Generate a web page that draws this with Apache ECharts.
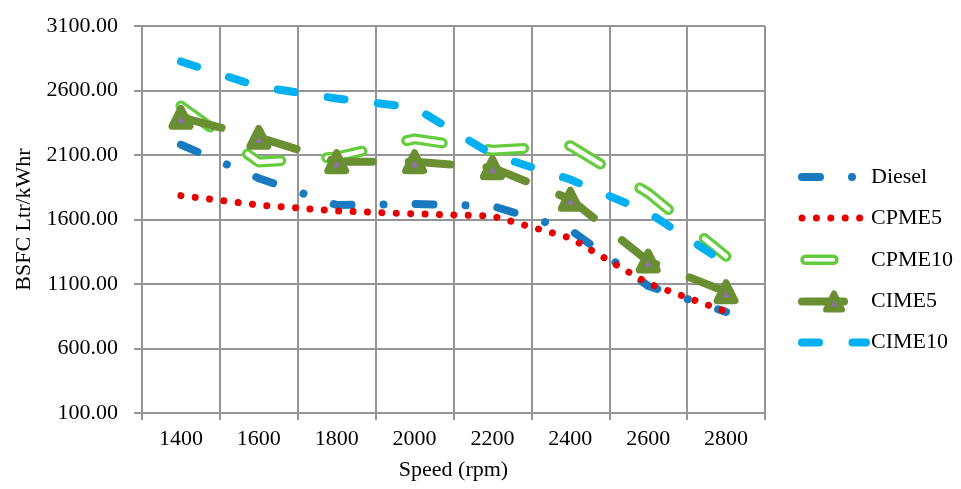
<!DOCTYPE html>
<html>
<head>
<meta charset="utf-8">
<script src="https://cdn.jsdelivr.net/npm/echarts@6/dist/echarts.min.js"></script>
<style>
html,body{margin:0;padding:0;background:#fff;}
#chart{width:961px;height:489px;}
</style>
</head>
<body>
<div id="chart"></div>
<script>
// ---- data ----
const categories = ['1400','1600','1800','2000','2200','2400','2600','2800'];
const diesel = [2180, 1920, 1712, 1720, 1705, 1520, 1085, 883];
const cpme5  = [1785, 1712, 1666, 1644, 1627, 1457, 1104, 886];
const cpme10 = [2480, 2045, 2084, 2225, 2137, 2172, 1805, 1315];
const cime5  = [2392, 2237, 2048, 2048, 2002, 1757, 1278, 1040];
const cime10 = [2825, 2630, 2538, 2468, 2103, 1910, 1655, 1260];
const yMin = 100, yMax = 3100, yStep = 500;

const FONT = "'Liberation Serif','Times New Roman',serif";
const GRID = '#959595';
const C = {
  diesel: '#1A7ABF', cpme5: '#E60000', cpme10: '#66CC3F',
  cime5: '#6A8F33', cime10: '#00B0F0', purple: '#8E6FAF'
};
const hiddenSymbol = {opacity: 0, borderWidth: 0};

const chart = echarts.init(document.getElementById('chart'), null, {renderer: 'canvas'});
chart.setOption({
  animation: false,
  backgroundColor: '#fff',
  grid: {left: 142, right: 196, top: 26, bottom: 76, containLabel: false},
  xAxis: {
    type: 'category',
    data: categories,
    boundaryGap: true,
    name: 'Speed (rpm)',
    nameLocation: 'middle',
    nameGap: 46,
    nameTextStyle: {fontFamily: FONT, fontSize: 22, color: '#000'},
    axisLine: {lineStyle: {color: GRID, width: 2}},
    axisTick: {show: true, length: 7, lineStyle: {color: GRID, width: 2}},
    axisLabel: {fontFamily: FONT, fontSize: 22, color: '#000', margin: 15},
    splitLine: {show: true, lineStyle: {color: GRID, width: 2}}
  },
  yAxis: {
    type: 'value',
    min: yMin, max: yMax, interval: yStep,
    name: 'BSFC Ltr/kWhr',
    nameLocation: 'middle',
    nameGap: 103,
    nameTextStyle: {fontFamily: FONT, fontSize: 22, color: '#000'},
    axisLine: {show: true, lineStyle: {color: GRID, width: 2}},
    axisTick: {show: true, length: 8, lineStyle: {color: GRID, width: 2}},
    axisLabel: {fontFamily: FONT, fontSize: 22, color: '#000', margin: 24,
      formatter: v => v.toFixed(2)},
    splitLine: {show: true, lineStyle: {color: GRID, width: 2}}
  },
  legend: {
    orient: 'vertical',
    left: 798,
    top: 166,
    padding: 0,
    itemWidth: 64,
    itemHeight: 20,
    itemGap: 19,
    textStyle: {fontFamily: FONT, fontSize: 22, color: '#000'},
    lineStyle: {width: 8},
    data: [
      {name: 'Diesel', itemStyle: hiddenSymbol},
      {name: 'CPME5', itemStyle: hiddenSymbol, lineStyle: {width: 7}},
      {name: 'CPME10',
       icon: 'path://M0,0L0,0M64,20L64,20M3.5,6.5L31.5,6.5A3.5,3.5,0,0,1,31.5,13.5L3.5,13.5A3.5,3.5,0,0,1,3.5,6.5Z',
       itemStyle: {color: '#fff', borderColor: C.cpme10, borderWidth: 3.5}},
      {name: 'CIME5', itemStyle: {borderWidth: 6}},
      {name: 'CIME10', itemStyle: hiddenSymbol}
    ]
  },
  series: [
    {
      name: 'Diesel', type: 'line', data: diesel, symbol: 'none',
      color: C.diesel,
      lineStyle: {color: C.diesel, width: 8, type: [18, 32, 0.01, 32], cap: 'round', join: 'round'}
    },
    {
      name: 'CPME5', type: 'line', data: cpme5, symbol: 'none',
      color: C.cpme5,
      lineStyle: {color: C.cpme5, width: 7, type: [0.01, 14.4], cap: 'round', join: 'round'}
    },
    {
      name: 'CPME10', type: 'line', data: cpme10, symbol: 'none',
      color: C.cpme10,
      lineStyle: {color: C.cpme10, width: 11, type: [36, 46], cap: 'round', join: 'round'}
    },
    {
      name: 'CPME10-inner', type: 'line', data: cpme10, symbol: 'none',
      color: '#fff', silent: true,
      lineStyle: {color: '#fff', width: 4.5, type: [36, 46], cap: 'round', join: 'round'}
    },
    {
      name: 'CIME5', type: 'line', data: cime5,
      symbol: 'triangle', symbolSize: 18,
      color: C.purple,
      itemStyle: {color: C.purple, borderColor: C.cime5, borderWidth: 7, borderJoin: 'round'},
      lineStyle: {color: C.cime5, width: 8, type: [42, 36], cap: 'round', join: 'round'}
    },
    {
      name: 'CIME10', type: 'line', data: cime10, symbol: 'none',
      color: C.cime10,
      lineStyle: {color: C.cime10, width: 8, type: [17, 33.5], cap: 'round', join: 'round'}
    }
  ]
});
</script>
</body>
</html>
